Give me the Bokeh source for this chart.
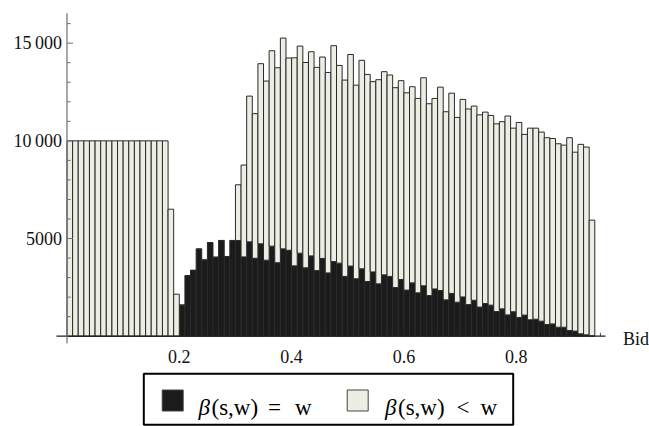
from bokeh.plotting import figure
from bokeh.models import Range1d, ColumnDataSource
from bokeh.layouts import column
from bokeh.embed import file_html
from bokeh.resources import INLINE
from bokeh.core.properties import value

# Histogram of bids, bins of width 0.01 starting at 0
bin_width = 0.01
n_bins = 94
bin_left = [round(i * bin_width, 2) for i in range(n_bins)]

# counts where beta(s,w) = w (dark part of each bar)
count_eq = [
    0, 0, 0, 0, 0, 0, 0, 0, 0, 0,
    0, 0, 0, 0, 0, 0, 0, 0, 0, 0,
    1590, 3100, 3370, 4460, 3900, 4790, 4040, 4900, 4080, 4900,
    4900, 4060, 4830, 3990, 4730, 3890, 4610, 3760, 4470, 4400,
    3600, 4250, 3500, 4110, 3360, 3980, 3240, 3820, 3740, 3060,
    3590, 2940, 3450, 2800, 3290, 2680, 3140, 3060, 2490, 2900,
    2360, 2730, 2220, 2580, 2080, 2420, 2340, 1860, 2190, 1740,
    2010, 1620, 1840, 1490, 1670, 1590, 1260, 1400, 1090, 1250,
    960, 1080, 840, 870, 770, 600, 630, 460, 460, 290,
    260, 120, 70, 20,
]

# counts where beta(s,w) < w (light part stacked on top)
count_lt = [
    10000, 10000, 10000, 10000, 10000, 10000, 10000, 10000, 10000, 10000,
    10000, 10000, 10000, 10000, 10000, 10000, 10000, 10000, 6500, 2150,
    0, 0, 0, 0, 0, 0, 0, 0, 0, 0,
    2850, 4700, 7460, 7400, 9220, 9170, 10000, 9980, 10790, 9840,
    10650, 10600, 10510, 10450, 10400, 10310, 10260, 11050, 10120, 10050,
    10830, 9910, 10670, 10600, 9740, 10450, 10400, 10310, 10230, 10180,
    10100, 10040, 9950, 10650, 9820, 9750, 10410, 9630, 10250, 9460,
    10110, 10010, 9940, 9840, 9800, 9710, 9610, 9580, 10180, 9400,
    9980, 9250, 9810, 9780, 9680, 9560, 9490, 9390, 9320, 9870,
    9160, 9700, 9610, 5920,
]

x_ticks = [0.2, 0.4, 0.6, 0.8]
x_tick_labels = ["0.2", "0.4", "0.6", "0.8"]
y_ticks = [5000, 10000, 15000]
y_tick_labels = ["5000", "10\u2009000", "15\u2009000"]
legend_labels = [("\u03b2", "(s,w)", "=", "w"), ("\u03b2", "(s,w)", "<", "w")]

DARK = "#1b1b1b"
LIGHT = "#ecede3"
EDGE = "#2a2a2a"
FONT = "Liberation Serif"

W = 649
H_MAIN = 370
H_LEG = 56

# pixel geometry of the plotting area
X0_PX = 66.5        # pixel column of bid = 0
X_PX_PER_UNIT = 561.5
Y0_PX = 335.7       # pixel row of count = 0
Y_PX_PER_COUNT = 0.019536


def px_x(px):
    return (px - X0_PX) / X_PX_PER_UNIT


def px_y(py):
    return (Y0_PX - py) / Y_PX_PER_COUNT


p = figure(
    width=W, height=H_MAIN,
    x_range=Range1d(px_x(0), px_x(W)),
    y_range=Range1d(px_y(H_MAIN), px_y(0)),
    output_backend="svg", toolbar_location=None,
    min_border=0,
)
p.axis.visible = False
p.grid.visible = False
p.outline_line_color = None
p.background_fill_color = "white"
p.border_fill_color = "white"

# x-axis minor/major ticks (pointing up, mostly hidden behind bars)
minor_x = [round(0.05 * k, 2) for k in range(1, 20)]
tick_src = ColumnDataSource(dict(
    x=minor_x,
    y0=[0] * len(minor_x),
    y1=[(6 if round(v * 10, 6) % 2 == 0 else 3.5) / Y_PX_PER_COUNT for v in minor_x],
))
p.segment(x0="x", y0="y0", x1="x", y1="y1", source=tick_src,
          line_color="#555555", line_width=1)

# stacked histogram bars
centers = [b + bin_width / 2 for b in bin_left]
tops_all = [a + b for a, b in zip(count_eq, count_lt)]
bars = ColumnDataSource(dict(x=centers, eq=count_eq, total=tops_all))
p.vbar(x="x", width=bin_width, bottom=0, top="eq", source=bars,
       fill_color=DARK, line_color=EDGE, line_width=1)
p.vbar(x="x", width=bin_width, bottom="eq", top="total", source=bars,
       fill_color=LIGHT, line_color=EDGE, line_width=1)

# axis lines
p.segment(x0=[px_x(56)], y0=[0], x1=[px_x(605)], y1=[0],
          line_color="#1e1e1e", line_width=1.2)
p.segment(x0=[0], y0=[px_y(343)], x1=[0], y1=[px_y(12.7)],
          line_color="#707070", line_width=1.2)

# y-axis ticks, pointing right
minor_y = [1000 * k for k in range(1, 17)]
ytick_src = ColumnDataSource(dict(
    y=minor_y,
    x0=[0] * len(minor_y),
    x1=[(6 if v % 5000 == 0 else 3.7) / X_PX_PER_UNIT for v in minor_y],
))
p.segment(x0="x0", y0="y", x1="x1", y1="y", source=ytick_src,
          line_color="#707070", line_width=1)

# tick labels
p.text(x=[0] * len(y_ticks), y=y_ticks, text=y_tick_labels,
       x_offset=-5, text_align="right", text_baseline="middle",
       text_font=value(FONT), text_font_size="18px", text_color="#111111")
p.text(x=x_ticks, y=[px_y(356)] * len(x_ticks), text=x_tick_labels,
       text_align="center", text_baseline="alphabetic",
       text_font=value(FONT), text_font_size="18px", text_color="#111111")
p.text(x=[px_x(622.5)], y=[px_y(338.5)], text=["Bid"],
       text_align="left", text_baseline="alphabetic",
       text_font=value(FONT), text_font_size="18px", text_color="#111111")

# legend panel below the chart
leg = figure(
    width=W, height=H_LEG,
    x_range=Range1d(0, W), y_range=Range1d(H_LEG, 0),
    output_backend="svg", toolbar_location=None, min_border=0,
)
leg.axis.visible = False
leg.grid.visible = False
leg.outline_line_color = None

leg.quad(left=[143.3], right=[512.7], top=[3.3], bottom=[54.3],
         fill_color=None, line_color="black", line_width=2)
leg.quad(left=[161.7, 346.7], right=[182.7, 367.7], top=[19.5, 19.5],
         bottom=[40.5, 40.5], fill_color=[DARK, LIGHT],
         line_color="#444444", line_width=1)

base = 36.8
groups = [(198.0, 211.0, 274.0, 294.5), (384.5, 397.5, 462.5, 480.0)]
for (greek, args, rel, rhs), (xg, xa, xr, xw) in zip(legend_labels, groups):
    leg.text(x=[xg], y=[base], text=[greek], text_align="left",
             text_baseline="alphabetic", text_font=value(FONT),
             text_font_style="italic", text_font_size="23px", text_color="black")
    leg.text(x=[xa], y=[base], text=[args], text_align="left",
             text_baseline="alphabetic", text_font=value(FONT),
             text_font_size="23px", text_color="black")
    leg.text(x=[xr], y=[base], text=[rel], text_align="center",
             text_baseline="alphabetic", text_font=value(FONT),
             text_font_size="23px", text_color="black")
    leg.text(x=[xw], y=[base], text=[rhs], text_align="left",
             text_baseline="alphabetic", text_font=value(FONT),
             text_font_size="23px", text_color="black")

layout = column(p, leg, spacing=0)
open("out.html", "w").write(file_html(layout, INLINE))
